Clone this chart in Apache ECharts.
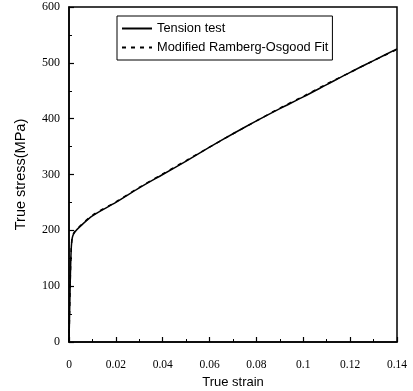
<!DOCTYPE html>
<html><head><meta charset="utf-8">
<script src="https://cdn.jsdelivr.net/npm/echarts@6/dist/echarts.min.js"></script>
<style>html,body{margin:0;padding:0;background:#fff}#c{width:413px;height:391px}</style>
</head><body><div id="c"></div>
<script>
const strain = [0, 0.0003, 0.0006, 0.0009, 0.0012, 0.0016, 0.0025, 0.005, 0.01, 0.02, 0.03, 0.04, 0.05, 0.06, 0.07, 0.08, 0.09, 0.1, 0.11, 0.12, 0.13, 0.14];
const tensionTest = [0, 60, 120, 162, 181, 190, 197, 208, 226, 250, 276, 300, 324, 349, 373, 396, 418, 439, 461, 483, 504, 525];
const fitStrain = [0, 0.0003, 0.0006, 0.0009, 0.0012, 0.0016, 0.0025, 0.005, 0.01, 0.02, 0.03, 0.04, 0.05, 0.06, 0.07, 0.08, 0.09, 0.1, 0.11, 0.12, 0.13, 0.14];
const fitValues = [0, 62, 122, 162, 182, 191, 198, 209, 227, 251, 277, 301, 325, 349, 373, 396, 419, 440, 462, 483, 504, 524];
const xTicks = [0, 0.02, 0.04, 0.06, 0.08, 0.1, 0.12, 0.14];
const yTicks = [0, 100, 200, 300, 400, 500, 600];

const chart = echarts.init(document.getElementById('c'));
const axisCommon = {
  axisLine: {onZero: false, lineStyle: {color: '#000', width: 1.5}},
  axisTick: {inside: true, length: 5, lineStyle: {color: '#000', width: 1.2}},
  minorTick: {show: true, splitNumber: 2, length: 3, lineStyle: {color: '#000'}},
  splitLine: {show: false},
  axisLabel: {color: '#000', fontFamily: 'Liberation Serif', fontSize: 12},
  nameTextStyle: {color: '#000', fontFamily: 'Liberation Sans', fontSize: 13}
};
chart.setOption({
  animation: false,
  backgroundColor: '#fff',
  grid: {left: 69, right: 16, top: 7, bottom: 49, containLabel: false, outerBoundsMode: 'none',
         show: true, borderColor: '#000', borderWidth: 1.5},
  legend: {
    orient: 'vertical', left: 117, top: 16,
    itemWidth: 30, itemHeight: 14, itemGap: 6,
    padding: [6, 4, 6, 4],
    borderColor: '#000', borderWidth: 1,
    itemStyle: {opacity: 0},
    textStyle: {fontFamily: 'Liberation Sans', fontSize: 12.8, color: '#000'},
    data: ['Tension test', 'Modified Ramberg-Osgood Fit']
  },
  xAxis: Object.assign({}, axisCommon, {
    type: 'value', min: 0, max: 0.14, interval: 0.02,
    name: 'True strain', nameLocation: 'middle', nameGap: 34,
    axisLabel: Object.assign({}, axisCommon.axisLabel, {fontSize: 11.5, margin: 17, formatter: v => {
      const f = xTicks.find(t => Math.abs(t - v) < 1e-9); return f === undefined ? '' : String(f);
    }})
  }),
  yAxis: Object.assign({}, axisCommon, {
    type: 'value', min: 0, max: 600, interval: 100,
    name: 'True stress(MPa)', nameLocation: 'middle', nameGap: 41,
    nameTextStyle: Object.assign({}, axisCommon.nameTextStyle, {fontSize: 14.5}),
    axisLabel: Object.assign({}, axisCommon.axisLabel, {margin: 9, formatter: v => {
      const f = yTicks.find(t => t === v); return f === undefined ? '' : String(f);
    }})
  }),
  series: [
    {name: 'Tension test', type: 'line', symbol: 'none', smooth: 0.3,
     lineStyle: {color: '#000', width: 1.5}, itemStyle: {color: '#000'},
     data: strain.map((s, i) => [s, tensionTest[i]])},
    {name: 'Modified Ramberg-Osgood Fit', type: 'line', symbol: 'none', smooth: 0.3,
     lineStyle: {color: '#000', width: 1.5, type: [4, 5]}, itemStyle: {color: '#000'},
     data: fitStrain.map((s, i) => [s, fitValues[i]])}
  ]
});
</script></body></html>
